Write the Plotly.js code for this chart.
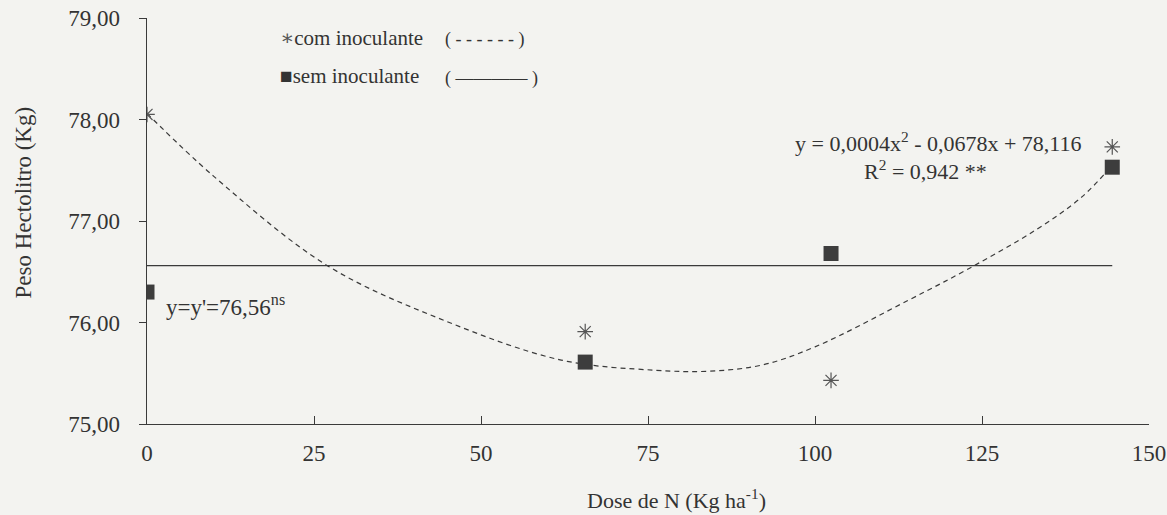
<!DOCTYPE html>
<html>
<head>
<meta charset="utf-8">
<script src="https://cdn.plot.ly/plotly-3.0.1.min.js"></script>
<style>html,body{margin:0;padding:0;background:#f3f3f0;}#chart{width:1167px;height:515px;}</style>
</head>
<body>
<div id="chart"></div>
<script>
// Observed points
const doses = [0, 65.6, 102.4, 144.5];
const comInoculante = [78.05, 75.91, 75.43, 77.73];
const semInoculante = [76.30, 75.61, 76.68, 77.53];

// Fitted curve (com inoculante)
const fitComX = [0, 10, 27, 44.5, 62, 76, 84, 92, 100, 114, 123, 133, 140, 144.5];
const fitComY = [78.06, 77.44, 76.56, 76.02, 75.63, 75.53, 75.52, 75.58, 75.76, 76.22, 76.53, 76.91, 77.24, 77.55];

// Mean line (sem inoculante)
const fitSemX = [0, 144.5];
const fitSemY = [76.56, 76.56];

// Ticks
const xTickVals = [0, 25, 50, 75, 100, 125, 150];
const xTickText = ['0', '25', '50', '75', '100', '125', '150'];
const yTickVals = [75, 76, 77, 78, 79];
const yTickText = ['75,00', '76,00', '77,00', '78,00', '79,00'];

const ink = '#3a3a3a';
const font = '"Liberation Serif", "DejaVu Serif", serif';

const traces = [
  {x: fitComX, y: fitComY, mode: 'lines', line: {color: ink, width: 1.2, dash: '5px,4px', shape: 'spline', smoothing: 1}, hoverinfo: 'skip'},
  {x: fitSemX, y: fitSemY, mode: 'lines', line: {color: ink, width: 1.4}, hoverinfo: 'skip'},
  {x: doses, y: comInoculante, mode: 'markers', name: 'com inoculante',
   marker: {symbol: 'asterisk-open', size: 13, color: '#555', line: {color: '#555', width: 1.2}}},
  {x: doses, y: semInoculante, mode: 'markers', name: 'sem inoculante',
   marker: {symbol: 'square', size: 15, color: '#3d3d3d', line: {width: 0}}}
];

const layout = {
  width: 1167, height: 515,
  margin: {l: 147, r: 18, t: 18, b: 91},
  paper_bgcolor: '#f3f3f0', plot_bgcolor: 'rgba(0,0,0,0)',
  showlegend: false,
  font: {family: font, color: ink, size: 20},
  xaxis: {
    range: [0, 150], tickvals: xTickVals, ticktext: xTickText,
    ticks: 'inside', ticklen: 8, tickcolor: ink, tickwidth: 1,
    showline: true, linecolor: ink, linewidth: 1, showgrid: false, zeroline: false,
    ticklabelstandoff: 8,
    tickfont: {family: font, size: 23, color: '#333'}
  },
  yaxis: {
    range: [75, 79], tickvals: yTickVals, ticktext: yTickText,
    ticks: 'outside', ticklen: 7, tickcolor: ink, tickwidth: 1,
    showline: true, linecolor: ink, linewidth: 1.3, showgrid: false, zeroline: false,
    ticklabelstandoff: 14,
    tickfont: {family: font, size: 23, color: '#333'}
  },
  annotations: [
    {xref: 'paper', yref: 'paper', x: 0.528, y: -0.185, xanchor: 'center', yanchor: 'middle', showarrow: false,
     text: 'Dose de N (Kg ha<sup>-1</sup>)', font: {family: font, size: 22, color: '#333'}},
    {xref: 'paper', yref: 'paper', x: -0.123, y: 0.545, xanchor: 'center', yanchor: 'middle', showarrow: false, textangle: -90,
     text: 'Peso Hectolitro (Kg)', font: {family: font, size: 23, color: '#333'}},
    {xref: 'x', yref: 'y', x: 140.3, y: 77.78, xanchor: 'right', yanchor: 'middle', showarrow: false,
     text: 'y = 0,0004x<sup>2</sup> - 0,0678x + 78,116', font: {family: font, size: 22, color: '#333'}},
    {xref: 'x', yref: 'y', x: 116.6, y: 77.50, xanchor: 'center', yanchor: 'middle', showarrow: false,
     text: 'R<sup>2</sup> = 0,942 **', font: {family: font, size: 22, color: '#333'}},
    {xref: 'x', yref: 'y', x: 2.6, y: 76.17, xanchor: 'left', yanchor: 'middle', showarrow: false,
     text: "y=y'=76,56<sup>ns</sup>", font: {family: font, size: 23, color: '#333'}},
    {xref: 'paper', yref: 'paper', x: 0.131, y: 0.951, xanchor: 'left', yanchor: 'middle', showarrow: false,
     text: '<span style="color:#555">\u2217</span>com inoculante', font: {family: font, size: 21, color: '#333'}},
    {xref: 'paper', yref: 'paper', x: 0.131, y: 0.856, xanchor: 'left', yanchor: 'middle', showarrow: false,
     text: '\u25A0sem inoculante', font: {family: font, size: 21, color: '#333'}},
    {xref: 'paper', yref: 'paper', x: 0.295, y: 0.948, xanchor: 'left', yanchor: 'middle', showarrow: false,
     text: '( - - - - - - )', font: {family: font, size: 18, color: '#333'}},
    {xref: 'paper', yref: 'paper', x: 0.295, y: 0.852, xanchor: 'left', yanchor: 'middle', showarrow: false,
     text: '( \u2014\u2014\u2014\u2014 )', font: {family: font, size: 18, color: '#333'}}
  ]
};

Plotly.newPlot('chart', traces, layout, {displayModeBar: false, staticPlot: true});
</script>
</body>
</html>
